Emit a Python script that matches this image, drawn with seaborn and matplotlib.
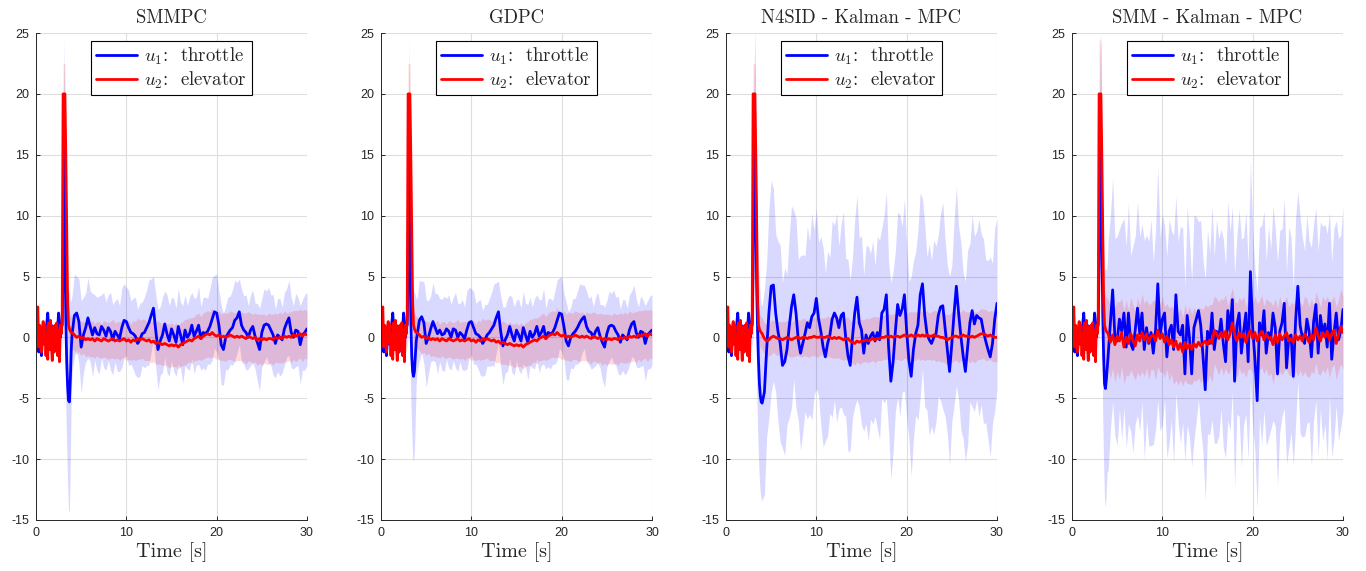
import numpy as np
import pandas as pd
import seaborn as sns
import matplotlib.pyplot as plt

# %% data
titles = ["SMMPC", "GDPC", "N4SID - Kalman - MPC", "SMM - Kalman - MPC"]
label_u1 = r"$u_1$:  throttle"
label_u2 = r"$u_2$:  elevator"
y_ticks = [-15, -10, -5, 0, 5, 10, 15, 20, 25]
x_ticks = [0, 10, 20, 30]

# sample times: 0.1 s up to the excitation, 0.25 s afterwards
t_pre = np.round(np.arange(0.0, 2.85, 0.1), 2)
t_spike = np.round(np.arange(2.9, 3.95, 0.1), 2)
t_post = np.arange(4.0, 30.01, 0.25)

# 0 .. 2.8 s, same excitation in every run (no spread)
u1_pre = [0.5, 0.0, -0.8, -1.2, 0.3, -0.5, -1.5, -0.4, 0.0, 0.6, -0.6, 0.2, 1.2, 2.0, 0.8,
          -1.0, 0.2, 1.0, 0.4, -0.5, -1.2, 0.5, 0.3, -1.0, 0.8, 2.0, 1.2, 0.0, 1.0]
u2_pre = [0.5, 1.8, 2.5, -0.8, 1.0, 0.2, -1.2, 0.8, 1.3, -0.5, 1.0, -1.5, 0.3, -1.8, 1.2,
          -1.0, 1.4, -0.6, -1.9, 0.9, -1.2, 1.0, -0.3, 1.2, -1.5, 0.6, -2.0, 1.0, 0.3]

# 2.9 .. 3.9 s
u2_spike = [1.5, 20.0, 20.0, 20.0, 15.0, 9.0, 3.0, 1.0, 0.7, 0.5, 0.4]
w2_spike = [0.5, 2.5, 2.5, 2.5, 2.5, 2.0, 1.6, 1.4, 1.3, 1.3, 1.3]
p1_u1_spike = [1.0, 6.0, 15.7, 8.0, 1.5, -2.0, -4.0, -5.2, -5.3, -3.5, -1.0]
p1_w1_spike = [2.0, 6.0, 9.0, 8.5, 7.0, 7.0, 8.0, 9.0, 9.0, 6.5, 4.0]
p2_u1_spike = [1.0, 6.0, 15.5, 8.0, 1.5, -1.5, -2.8, -3.2, -2.8, -1.5, -0.3]
p2_w1_spike = [2.0, 6.0, 9.0, 8.0, 6.5, 6.0, 7.0, 7.0, 6.5, 5.0, 3.5]
p3_u1_spike = [1.0, 6.0, 12.0, 16.3, 11.0, 4.0, 0.5, -2.0, -3.8, -4.8, -5.3]
p3_w1_spike = [2.0, 6.0, 9.0, 9.0, 9.0, 8.5, 8.0, 8.0, 8.0, 8.0, 8.0]
p4_u1_spike = [1.0, 6.0, 14.0, 16.4, 9.0, 2.0, -1.5, -3.8, -4.2, -3.5, -2.5]
p4_w1_spike = [2.0, 6.0, 9.0, 8.7, 8.5, 8.5, 9.0, 9.5, 9.8, 9.0, 8.5]
p4_w2_spike = [0.8, 4.5, 4.5, 4.0, 3.5, 3.0, 2.8, 2.8, 2.8, 2.8, 2.8]

# 4 .. 30 s (rows of 2 s)
p1_u1_post = [0.3, 1.8, 2.0, 1.3, -0.8, 0.2, 0.8, 1.6,
              0.9, 0.2, 0.8, 0.3, 0.2, 0.9, 0.6, 0.1,
              0.8, 0.5, -0.2, 0.5, 0.2, -0.1, 0.8, 1.4,
              1.3, 0.8, 0.4, 0.3, 0.1, -0.5, -0.2, 0.3,
              0.4, 0.8, 1.2, 1.8, 2.4, 0.6, -1.0, -0.3,
              0.2, 1.1, 0.3, -0.3, 0.7, 0.2, -0.4, 0.9,
              0.2, -0.6, 0.6, 0.0, 0.3, 1.0, 0.1, 0.5,
              1.0, -0.1, 0.4, 0.3, 0.5, 0.9, 1.5, 2.1,
              2.0, 1.0, -0.6, -1.0, 0.0, 0.3, 0.6, 0.8,
              1.4, 1.6, 2.1, 1.0, 0.6, 0.4, 0.0, 0.6,
              0.9, 0.1, -0.4, -1.0, 0.4, 1.0, 1.1, 1.0,
              0.6, 0.2, -0.5, 0.2, 0.0, -0.2, 0.7, 1.2,
              1.6, 0.4, 0.0, 0.6, 0.5, -0.6, 0.2, 0.4,
              0.7]
p1_w1_post = [3.2, 3.4, 3.0, 3.5, 3.8, 3.1, 2.8, 3.3,
              2.9, 3.4, 2.7, 3.0, 3.2, 2.6, 3.1, 2.8,
              2.7, 3.2, 2.9, 2.5, 3.0, 2.7, 3.3, 3.0,
              2.8, 3.1, 2.6, 2.9, 3.2, 2.8, 3.0, 2.6,
              2.9, 3.1, 3.5, 3.0, 2.6, 3.0, 3.3, 2.8,
              3.1, 2.7, 3.2, 2.9, 2.6, 3.0, 2.8, 3.1,
              2.7, 3.2, 2.9, 2.6, 3.0, 2.7, 3.1, 2.8,
              3.2, 2.6, 2.9, 3.0, 2.7, 3.1, 3.4, 3.0,
              3.2, 2.8, 3.3, 2.9, 2.6, 3.0, 2.8, 3.1,
              3.3, 2.9, 2.7, 3.0, 2.8, 3.1, 2.6, 2.9,
              3.0, 2.7, 3.2, 3.4, 2.8, 3.0, 2.7, 3.1,
              2.9, 3.3, 2.8, 3.0, 3.2, 2.7, 3.0, 2.8,
              3.1, 2.9, 2.6, 3.0, 2.8, 3.2, 2.9, 3.1,
              3.0]
u2_smooth_post = [0.4, 0.2, 0.0, 0.1, -0.1, 0.0, -0.2, -0.1,
                  -0.2, -0.1, -0.3, -0.1, -0.2, -0.3, -0.1, -0.2,
                  -0.3, -0.2, -0.1, -0.3, -0.2, -0.3, -0.2, -0.1,
                  -0.3, -0.2, -0.4, -0.2, -0.3, -0.1, -0.2, -0.1,
                  -0.2, -0.3, -0.2, -0.4, -0.3, -0.5, -0.4, -0.5,
                  -0.6, -0.5, -0.6, -0.7, -0.6, -0.7, -0.6, -0.8,
                  -0.6, -0.5, -0.4, -0.3, -0.2, -0.3, -0.1, 0.0,
                  0.1, -0.1, 0.1, 0.2, 0.3, 0.2, 0.4, 0.2,
                  0.1, 0.2, 0.0, 0.1, 0.0, 0.1, 0.2, 0.1,
                  0.0, 0.1, 0.0, 0.1, 0.0, -0.1, 0.1, 0.0,
                  -0.1, 0.0, -0.2, -0.1, -0.2, -0.1, -0.2, -0.1,
                  -0.1, -0.2, 0.0, -0.1, 0.0, -0.1, 0.1, 0.0,
                  0.1, 0.0, 0.2, 0.1, 0.2, 0.3, 0.1, 0.3,
                  0.2]
w2_smooth_post = [1.3, 1.3, 1.4, 1.3, 1.4, 1.3, 1.4, 1.4,
                  1.4, 1.5, 1.4, 1.4, 1.5, 1.4, 1.5, 1.5,
                  1.5, 1.5, 1.6, 1.5, 1.5, 1.6, 1.5, 1.6,
                  1.6, 1.6, 1.5, 1.6, 1.6, 1.7, 1.6, 1.6,
                  1.7, 1.6, 1.7, 1.7, 1.7, 1.7, 1.8, 1.7,
                  1.7, 1.8, 1.7, 1.8, 1.8, 1.7, 1.8, 1.8,
                  1.8, 1.8, 1.9, 1.8, 1.8, 1.9, 1.8, 1.9,
                  1.9, 1.8, 1.9, 1.9, 1.9, 1.9, 2.0, 1.9,
                  1.9, 2.0, 1.9, 2.0, 2.0, 1.9, 2.0, 2.0,
                  2.0, 2.0, 1.9, 2.0, 2.0, 2.1, 2.0, 2.0,
                  2.0, 2.0, 2.1, 2.0, 2.1, 2.0, 2.0, 2.1,
                  2.0, 2.1, 2.0, 2.0, 2.1, 2.0, 2.1, 2.0,
                  2.0, 2.1, 2.0, 2.1, 2.0, 2.0, 2.1, 2.0,
                  2.0]
p2_u1_post = [0.2, 1.4, 1.7, 1.2, -0.5, 0.0, 0.7, 1.3,
              0.8, 0.3, 0.6, 0.2, 0.3, 0.7, 0.5, 0.0,
              0.7, 0.6, 0.0, 0.4, 0.2, -0.1, 0.6, 1.2,
              1.3, 0.8, 0.3, 0.2, 0.0, -0.5, -0.2, 0.2,
              0.4, 0.7, 1.0, 1.6, 2.1, 0.5, -0.7, -0.2,
              0.2, 0.9, 0.2, -0.3, 0.6, 0.2, -0.3, 0.8,
              0.2, -0.4, 0.5, 0.0, 0.3, 0.9, 0.1, 0.4,
              0.9, -0.1, 0.4, 0.3, 0.4, 0.8, 1.4, 2.0,
              1.9, 0.9, -0.3, -0.7, 0.0, 0.3, 0.5, 0.8,
              1.2, 1.5, 1.7, 0.9, 0.5, 0.4, 0.0, 0.5,
              0.8, 0.1, -0.4, -0.8, 0.3, 0.9, 1.0, 0.9,
              0.5, 0.2, -0.4, 0.2, 0.0, -0.2, 0.6, 1.1,
              1.3, 0.4, 0.0, 0.5, 0.4, -0.5, 0.2, 0.4,
              0.6]
p2_w1_post = [3.0, 3.3, 2.9, 3.4, 3.6, 3.0, 2.7, 3.2,
              2.8, 3.3, 2.6, 2.9, 3.1, 2.5, 3.0, 2.7,
              2.6, 3.1, 2.8, 2.4, 2.9, 2.6, 3.2, 2.9,
              2.7, 3.0, 2.5, 2.8, 3.1, 2.7, 2.9, 2.5,
              2.8, 3.0, 3.4, 2.9, 2.5, 2.9, 3.2, 2.7,
              3.0, 2.6, 3.1, 2.8, 2.5, 2.9, 2.7, 3.0,
              2.6, 3.1, 2.8, 2.5, 2.9, 2.6, 3.0, 2.7,
              3.1, 2.5, 2.8, 2.9, 2.6, 3.0, 3.3, 2.9,
              3.1, 2.7, 3.2, 2.8, 2.5, 2.9, 2.7, 3.0,
              3.2, 2.8, 2.6, 2.9, 2.7, 3.0, 2.5, 2.8,
              2.9, 2.6, 3.1, 3.3, 2.7, 2.9, 2.6, 3.0,
              2.8, 3.2, 2.7, 2.9, 3.1, 2.6, 2.9, 2.7,
              3.0, 2.8, 2.5, 2.9, 2.7, 3.1, 2.8, 3.0,
              2.9]
p3_u1_post = [-5.4, -4.5, -1.0, 2.0, 4.2, 4.3, 2.0, 0.5,
              -0.5, -2.3, -2.0, -1.0, 0.9, 2.5, 3.5, 2.0,
              -0.2, -1.3, -0.5, 0.3, 1.2, 0.8, 1.7, 2.0,
              3.2, 1.5, 0.5, -0.8, -1.6, -0.5, 0.2, 1.5,
              2.0, 1.6, 0.8, 1.8, 2.0, 0.0, -1.5, -2.3,
              0.0, 2.0, 3.3, 1.2, 0.6, -1.3, 0.2, -0.5,
              0.1, 0.4, -0.3, 0.4, -0.2, 2.0, 2.3, 3.5,
              -0.8, -3.6, -2.0, 0.5, 2.7, 1.8, 2.3, 3.5,
              0.5, -1.9, -3.2, -1.0, 0.3, 1.0, 3.5, 4.4,
              1.8, 0.3, -0.2, -0.5, 0.0, 0.3, 1.8, 2.5,
              2.6, 0.8, -1.0, -2.8, -0.5, 2.0, 4.2, 2.0,
              0.1, -1.5, -2.8, -0.8, 1.2, 2.2, 1.1, 1.8,
              1.6, 1.5, 0.5, -0.3, -1.0, -1.6, -0.5, 1.5,
              2.8]
p3_w1_post = [8.0, 8.4, 7.2, 8.6, 8.7, 7.9, 6.5, 7.4,
              8.1, 6.8, 7.7, 6.2, 7.5, 8.3, 6.9, 7.8,
              6.6, 8.0, 7.3, 6.4, 7.9, 7.1, 8.5, 6.8,
              7.4, 6.3, 7.8, 8.2, 6.9, 7.6, 6.4, 8.1,
              7.2, 8.6, 6.7, 7.5, 8.3, 6.5, 7.9, 7.0,
              6.6, 7.7, 8.4, 6.9, 7.8, 6.4, 7.3, 8.0,
              6.8, 7.5, 6.2, 7.9, 8.2, 7.0, 7.7, 8.5,
              6.9, 8.1, 7.4, 6.6, 7.6, 8.3, 6.8, 7.9,
              7.1, 6.5, 8.2, 7.3, 6.7, 7.8, 8.4, 7.0,
              7.5, 6.3, 7.9, 6.8, 8.0, 7.2, 6.6, 7.7,
              8.5, 7.3, 6.9, 7.8, 6.4, 7.6, 8.2, 7.1,
              7.7, 6.8, 7.4, 8.0, 6.5, 7.9, 7.2, 6.9,
              8.1, 7.0, 7.6, 6.7, 7.3, 8.2, 6.6, 7.5,
              7.0]
p3_u2_post = [0.3, -0.1, -0.3, -0.2, 0.0, 0.1, 0.0, -0.1,
              -0.1, -0.2, -0.1, 0.0, -0.1, -0.2, -0.1, 0.0,
              0.0, -0.1, 0.0, 0.0, -0.1, 0.0, 0.0, 0.1,
              0.0, 0.0, 0.1, 0.0, 0.0, 0.1, 0.0, -0.1,
              0.0, -0.1, 0.0, -0.1, -0.2, -0.1, -0.1, -0.3,
              -0.4, -0.5, -0.3, -0.4, -0.3, -0.3, -0.2, -0.3,
              -0.2, -0.1, -0.2, -0.1, -0.1, 0.0, 0.0, 0.1,
              0.0, 0.1, 0.0, 0.1, 0.1, 0.0, 0.1, 0.2,
              0.1, 0.1, 0.2, 0.1, 0.1, 0.2, 0.1, 0.2,
              0.1, 0.2, 0.1, 0.1, 0.2, 0.1, 0.1, 0.0,
              0.0, -0.1, -0.2, -0.1, 0.0, 0.1, 0.1, 0.0,
              0.1, 0.2, 0.1, 0.1, 0.0, 0.1, 0.0, 0.1,
              0.2, 0.3, 0.3, 0.2, 0.1, 0.2, 0.1, 0.0,
              0.0]
p4_u1_post = [-1.5, 1.2, 3.9, 0.0, -0.3, 1.5, 0.5, 2.0,
              -0.8, 2.0, -0.5, -1.0, 0.6, 2.4, 0.3, 2.0,
              -1.0, 0.8, -0.5, 0.4, -1.3, 0.6, 4.4, 0.2,
              1.5, 2.0, -1.6, 0.5, 1.0, -1.0, 3.5, 0.5,
              0.2, 1.0, -3.0, 1.8, 0.0, -3.0, 0.8, 1.5,
              2.2, 1.0, -1.5, -4.3, 0.5, -0.5, 2.0, -1.0,
              0.5, 0.0, 1.5, -0.5, -2.0, 2.2, 0.5, 3.1,
              -3.6, 1.0, 2.0, -1.3, 0.5, 2.0, -2.0, 5.4,
              0.8, -1.8, -5.2, 1.2, 0.2, 2.2, -1.3, 0.4,
              -0.2, 2.0, 0.8, -3.0, 0.5, 1.2, 2.8, -2.5,
              0.0, 0.2, -3.2, 1.3, 4.2, 1.0, 0.0, -0.5,
              1.5, 0.5, -1.6, 1.3, 2.7, -1.3, 1.8, 0.3,
              1.1, -0.8, 2.8, -1.8, 0.3, 2.0, -0.2, 0.5,
              2.3]
p4_w1_post = [9.5, 8.8, 9.2, 8.1, 8.6, 7.4, 8.9, 7.8,
              8.3, 9.1, 7.2, 8.5, 7.7, 8.8, 8.0, 7.3,
              9.0, 7.6, 8.4, 9.3, 7.5, 8.2, 9.6, 7.9,
              8.7, 7.1, 8.3, 9.2, 7.8, 9.4, 8.1, 7.4,
              8.9, 8.0, 7.2, 9.0, 8.2, 7.6, 9.3, 8.4,
              7.3, 8.6, 7.9, 9.1, 8.4, 7.5, 8.8, 7.7,
              9.2, 8.1, 7.4, 8.6, 7.9, 9.0, 8.2, 7.6,
              8.8, 7.3, 8.5, 9.4, 7.7, 8.3, 8.0, 9.1,
              8.1, 7.5, 8.9, 7.8, 9.0, 8.2, 7.6, 8.7,
              7.4, 8.8, 8.1, 9.2, 8.3, 7.7, 8.6, 7.9,
              9.1, 8.0, 7.3, 8.5, 7.8, 8.9, 8.2, 7.6,
              8.6, 7.4, 9.0, 8.1, 7.9, 8.4, 7.7, 8.8,
              8.2, 9.3, 7.5, 8.0, 8.7, 7.6, 8.3, 7.9,
              8.4]
p4_u2_post = [0.3, -0.4, 0.2, -0.6, 0.1, -0.3, 0.4, -0.8,
              0.0, -0.5, 0.3, -0.2, -0.7, 0.2, -0.3, 0.4,
              -0.2, 0.3, -0.4, 0.1, 0.2, -0.3, 0.6, -0.1,
              0.3, -0.4, 0.1, -0.6, -0.2, -0.8, -0.3, -1.0,
              -0.5, -1.2, -0.4, -0.9, -0.6, -1.0, -0.5, -0.8,
              -0.4, -0.7, -0.5, -0.3, -0.6, -0.2, -0.5, 0.6,
              0.3, -0.1, 0.4, 0.0, 0.5, -0.2, 0.3, 1.2,
              0.2, -0.3, 0.4, 0.0, 0.3, -0.4, 0.2, 0.6,
              -0.1, 0.4, -0.3, 0.2, 0.5, -0.2, 0.3, -0.1,
              0.0, -0.6, 0.2, -0.4, 0.3, -0.2, 0.1, 0.4,
              -0.3, -0.1, -0.4, 0.2, -0.2, 0.1, -0.3, 0.3,
              0.0, -0.4, 0.2, -0.2, 0.8, 0.1, -0.3, 0.4,
              0.0, 0.5, -0.2, 0.3, 0.6, -0.5, 0.2, 0.9,
              0.4]
p4_w2_post = [2.8, 3.0, 2.7, 3.1, 2.9, 3.2, 2.8, 3.0,
              3.1, 2.7, 3.0, 2.9, 2.8, 3.1, 2.9, 3.2,
              3.0, 2.8, 3.1, 2.7, 2.9, 3.2, 3.0, 2.8,
              3.1, 2.9, 2.7, 3.0, 2.8, 3.1, 3.2, 2.9,
              3.0, 2.8, 3.1, 2.9, 3.2, 2.9, 3.0, 2.8,
              2.9, 3.1, 2.8, 3.0, 3.1, 2.9, 3.2, 2.8,
              2.9, 3.0, 2.8, 3.1, 3.0, 2.8, 3.1, 2.9,
              2.8, 3.1, 2.9, 3.0, 3.1, 2.9, 2.8, 3.2,
              2.9, 3.0, 3.1, 2.8, 3.0, 2.8, 2.9, 3.1,
              2.9, 3.2, 3.0, 2.8, 3.1, 2.9, 2.8, 3.0,
              2.8, 3.0, 3.1, 2.9, 3.0, 2.8, 2.9, 3.1,
              3.2, 2.9, 3.0, 2.8, 2.9, 3.1, 2.8, 3.0,
              3.0, 2.9, 3.1, 2.8, 2.8, 3.0, 2.9, 3.1,
              3.0]

# %% assemble the runs
t = np.concatenate([t_pre, t_spike, t_post])
no_spread = np.zeros(len(t_pre))


def full(pre, spike, post):
    return np.concatenate([pre, spike, post])


panels = [
    (full(u1_pre, p1_u1_spike, p1_u1_post), full(no_spread, p1_w1_spike, p1_w1_post),
     full(u2_pre, u2_spike, u2_smooth_post), full(no_spread, w2_spike, w2_smooth_post)),
    (full(u1_pre, p2_u1_spike, p2_u1_post), full(no_spread, p2_w1_spike, p2_w1_post),
     full(u2_pre, u2_spike, u2_smooth_post), full(no_spread, w2_spike, w2_smooth_post)),
    (full(u1_pre, p3_u1_spike, p3_u1_post), full(no_spread, p3_w1_spike, p3_w1_post),
     full(u2_pre, u2_spike, p3_u2_post), full(no_spread, w2_spike, w2_smooth_post)),
    (full(u1_pre, p4_u1_spike, p4_u1_post), full(no_spread, p4_w1_spike, p4_w1_post),
     full(u2_pre, u2_spike, p4_u2_post), full(no_spread, p4_w2_spike, p4_w2_post)),
]

# %% style
sns.set_style("whitegrid")
plt.rcParams['font.family'] = ['Liberation Sans', 'DejaVu Sans']
plt.rcParams['mathtext.fontset'] = 'cm'
plt.rcParams['axes.unicode_minus'] = False
serif = ['cmr10', 'DejaVu Serif']

fig = plt.figure(figsize=(13.66, 5.71), dpi=100)
lefts = [36, 381, 726, 1072]

for i, (u1, w1, u2, w2) in enumerate(panels):
    ax = fig.add_axes([lefts[i] / 1366, 1 - 520 / 571, 271 / 1366, 487 / 571])
    df = pd.DataFrame({'t': t, 'u1': u1, 'u2': u2})

    ax.fill_between(t, u1 - w1, u1 + w1, color='blue', alpha=0.15, lw=0)
    ax.fill_between(t, u2 - w2, u2 + w2, color='red', alpha=0.15, lw=0)
    sns.lineplot(data=df, x='t', y='u1', ax=ax, color='#0000ff', lw=2, label=label_u1)
    sns.lineplot(data=df, x='t', y='u2', ax=ax, color='#ff0000', lw=2, label=label_u2)

    ax.set_xlim(0, 30)
    ax.set_ylim(-15, 25)
    ax.set_xticks(x_ticks)
    ax.set_yticks(y_ticks)
    ax.grid(True, color='#dedede', lw=0.8)
    ax.set_facecolor('white')
    for s in ['top', 'right']:
        ax.spines[s].set_visible(False)
    for s in ['left', 'bottom']:
        ax.spines[s].set_color('#262626')
        ax.spines[s].set_linewidth(0.7)
    ax.tick_params(direction='in', length=3, width=0.7, color='#262626',
                   labelcolor='#262626', labelsize=9, pad=5)
    ax.tick_params(axis='y', left=True)
    ax.tick_params(axis='x', bottom=True)

    ax.set_title(titles[i], family=serif, fontsize=13.5, pad=7)
    ax.set_xlabel('Time [s]', family=serif, fontsize=14.5, labelpad=2)
    ax.set_ylabel('')

    leg = ax.legend(loc='upper center', bbox_to_anchor=(0.5, 0.984), frameon=True,
                    fancybox=False, edgecolor='black', framealpha=1,
                    prop={'family': serif, 'size': 13.5}, handlelength=2.2,
                    borderpad=0.25, labelspacing=0.15, handletextpad=0.4,
                    borderaxespad=0.0)
    leg.get_frame().set_linewidth(0.8)

fig.savefig('out.png', dpi=100)
